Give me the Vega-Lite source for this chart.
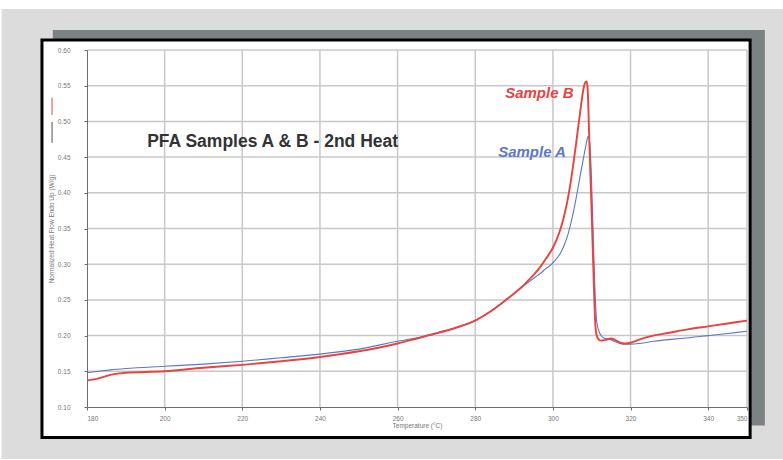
{
  "$schema": "https://vega.github.io/schema/vega-lite/v6.json",
  "width": 660,
  "height": 357,
  "autosize": {"type": "none"},
  "padding": {"left": 87, "top": 50, "right": 36, "bottom": 53},
  "background": "#ffffff",
  "config": {"view": {"stroke": null}, "font": "Liberation Sans"},
  "datasets": {
    "page": [{"x": 158, "x2": 362, "y": 0.027, "y2": 0.6574}],
    "shadow": [{"x": 171.2, "x2": 354.6, "y": 0.074, "y2": 0.628}],
    "panel": [{"x": 168.4, "x2": 350.8, "y": 0.0573, "y2": 0.614}],
    "vgrid": [
      {"x": 200, "y": 0.1, "y2": 0.6}, {"x": 220, "y": 0.1, "y2": 0.6}, {"x": 240, "y": 0.1, "y2": 0.6},
      {"x": 260, "y": 0.1, "y2": 0.6}, {"x": 280, "y": 0.1, "y2": 0.6}, {"x": 300, "y": 0.1, "y2": 0.6},
      {"x": 320, "y": 0.1, "y2": 0.6}, {"x": 340, "y": 0.1, "y2": 0.6}, {"x": 350, "y": 0.1, "y2": 0.6}
    ],
    "hgrid": [
      {"y": 0.15, "x": 180, "x2": 350}, {"y": 0.2, "x": 180, "x2": 350}, {"y": 0.25, "x": 180, "x2": 350},
      {"y": 0.3, "x": 180, "x2": 350}, {"y": 0.35, "x": 180, "x2": 350}, {"y": 0.4, "x": 180, "x2": 350},
      {"y": 0.45, "x": 180, "x2": 350}, {"y": 0.5, "x": 180, "x2": 350}, {"y": 0.55, "x": 180, "x2": 350},
      {"y": 0.6, "x": 180, "x2": 350}
    ],
    "legB": [{"x": 171, "y": 0.509, "y2": 0.533}],
    "legA": [{"x": 171, "y": 0.470, "y2": 0.499}],
    "curves": [
      {"series": "Sample A", "x": 180, "y": 0.148},
      {"series": "Sample A", "x": 183, "y": 0.150},
      {"series": "Sample A", "x": 186, "y": 0.152},
      {"series": "Sample A", "x": 190, "y": 0.154},
      {"series": "Sample A", "x": 200, "y": 0.157},
      {"series": "Sample A", "x": 210, "y": 0.160},
      {"series": "Sample A", "x": 220, "y": 0.164},
      {"series": "Sample A", "x": 230, "y": 0.169},
      {"series": "Sample A", "x": 240, "y": 0.174},
      {"series": "Sample A", "x": 250, "y": 0.181},
      {"series": "Sample A", "x": 260, "y": 0.192},
      {"series": "Sample A", "x": 265, "y": 0.197},
      {"series": "Sample A", "x": 270, "y": 0.204},
      {"series": "Sample A", "x": 275, "y": 0.211},
      {"series": "Sample A", "x": 280, "y": 0.221},
      {"series": "Sample A", "x": 284, "y": 0.234},
      {"series": "Sample A", "x": 287, "y": 0.246},
      {"series": "Sample A", "x": 290, "y": 0.259},
      {"series": "Sample A", "x": 292, "y": 0.268},
      {"series": "Sample A", "x": 294, "y": 0.276},
      {"series": "Sample A", "x": 296, "y": 0.284},
      {"series": "Sample A", "x": 297, "y": 0.288},
      {"series": "Sample A", "x": 298, "y": 0.293},
      {"series": "Sample A", "x": 299, "y": 0.297},
      {"series": "Sample A", "x": 300, "y": 0.302},
      {"series": "Sample A", "x": 301, "y": 0.308},
      {"series": "Sample A", "x": 302, "y": 0.316},
      {"series": "Sample A", "x": 303, "y": 0.328},
      {"series": "Sample A", "x": 304, "y": 0.344},
      {"series": "Sample A", "x": 305, "y": 0.366},
      {"series": "Sample A", "x": 306, "y": 0.393},
      {"series": "Sample A", "x": 307, "y": 0.423},
      {"series": "Sample A", "x": 308, "y": 0.452},
      {"series": "Sample A", "x": 308.6, "y": 0.469},
      {"series": "Sample A", "x": 309.1, "y": 0.479},
      {"series": "Sample A", "x": 309.5, "y": 0.470},
      {"series": "Sample A", "x": 310.0, "y": 0.409},
      {"series": "Sample A", "x": 310.4, "y": 0.339},
      {"series": "Sample A", "x": 310.8, "y": 0.270},
      {"series": "Sample A", "x": 311.3, "y": 0.219},
      {"series": "Sample A", "x": 312.1, "y": 0.203},
      {"series": "Sample A", "x": 313, "y": 0.197},
      {"series": "Sample A", "x": 315, "y": 0.194},
      {"series": "Sample A", "x": 318, "y": 0.188},
      {"series": "Sample A", "x": 320, "y": 0.188},
      {"series": "Sample A", "x": 322.4, "y": 0.189},
      {"series": "Sample A", "x": 326, "y": 0.192},
      {"series": "Sample A", "x": 331, "y": 0.195},
      {"series": "Sample A", "x": 335, "y": 0.197},
      {"series": "Sample A", "x": 340, "y": 0.200},
      {"series": "Sample A", "x": 345, "y": 0.203},
      {"series": "Sample A", "x": 350, "y": 0.206},
      {"series": "Sample B", "x": 180, "y": 0.137},
      {"series": "Sample B", "x": 183, "y": 0.140},
      {"series": "Sample B", "x": 186, "y": 0.145},
      {"series": "Sample B", "x": 190, "y": 0.148},
      {"series": "Sample B", "x": 200, "y": 0.150},
      {"series": "Sample B", "x": 210, "y": 0.155},
      {"series": "Sample B", "x": 220, "y": 0.159},
      {"series": "Sample B", "x": 230, "y": 0.164},
      {"series": "Sample B", "x": 240, "y": 0.170},
      {"series": "Sample B", "x": 250, "y": 0.178},
      {"series": "Sample B", "x": 260, "y": 0.189},
      {"series": "Sample B", "x": 265, "y": 0.196},
      {"series": "Sample B", "x": 270, "y": 0.203},
      {"series": "Sample B", "x": 275, "y": 0.211},
      {"series": "Sample B", "x": 280, "y": 0.221},
      {"series": "Sample B", "x": 284, "y": 0.234},
      {"series": "Sample B", "x": 287, "y": 0.246},
      {"series": "Sample B", "x": 290, "y": 0.259},
      {"series": "Sample B", "x": 292, "y": 0.268},
      {"series": "Sample B", "x": 294, "y": 0.279},
      {"series": "Sample B", "x": 296, "y": 0.291},
      {"series": "Sample B", "x": 297, "y": 0.298},
      {"series": "Sample B", "x": 298, "y": 0.306},
      {"series": "Sample B", "x": 299, "y": 0.314},
      {"series": "Sample B", "x": 300, "y": 0.323},
      {"series": "Sample B", "x": 301, "y": 0.335},
      {"series": "Sample B", "x": 302, "y": 0.350},
      {"series": "Sample B", "x": 303, "y": 0.370},
      {"series": "Sample B", "x": 304, "y": 0.396},
      {"series": "Sample B", "x": 305, "y": 0.430},
      {"series": "Sample B", "x": 306, "y": 0.470},
      {"series": "Sample B", "x": 307, "y": 0.512},
      {"series": "Sample B", "x": 307.7, "y": 0.540},
      {"series": "Sample B", "x": 308.2, "y": 0.553},
      {"series": "Sample B", "x": 308.6, "y": 0.556},
      {"series": "Sample B", "x": 308.9, "y": 0.550},
      {"series": "Sample B", "x": 309.4, "y": 0.470},
      {"series": "Sample B", "x": 310.0, "y": 0.370},
      {"series": "Sample B", "x": 310.5, "y": 0.280},
      {"series": "Sample B", "x": 311.0, "y": 0.210},
      {"series": "Sample B", "x": 311.5, "y": 0.197},
      {"series": "Sample B", "x": 312.3, "y": 0.193},
      {"series": "Sample B", "x": 313.5, "y": 0.194},
      {"series": "Sample B", "x": 315, "y": 0.196},
      {"series": "Sample B", "x": 316, "y": 0.194},
      {"series": "Sample B", "x": 317, "y": 0.191},
      {"series": "Sample B", "x": 318.7, "y": 0.189},
      {"series": "Sample B", "x": 320, "y": 0.190},
      {"series": "Sample B", "x": 322, "y": 0.194},
      {"series": "Sample B", "x": 325, "y": 0.199},
      {"series": "Sample B", "x": 330, "y": 0.204},
      {"series": "Sample B", "x": 335, "y": 0.209},
      {"series": "Sample B", "x": 340, "y": 0.213},
      {"series": "Sample B", "x": 345, "y": 0.217},
      {"series": "Sample B", "x": 350, "y": 0.221}
    ],
    "labels": [
      {"series": "Sample B", "x": 287.7, "y": 0.540},
      {"series": "Sample A", "x": 285.9, "y": 0.457}
    ],
    "title": [{"label": "PFA Samples A & B - 2nd Heat", "x": 195.5, "y": 0.471}]
  },
  "encoding": {
    "x": {
      "field": "x", "type": "quantitative",
      "scale": {"domain": [180, 350], "nice": false, "zero": false},
      "axis": {
        "values": [180, 200, 220, 240, 260, 280, 300, 320, 340, 350],
        "title": "Temperature (°C)", "grid": false, "zindex": 1,
        "domainColor": "#6e6e6e", "tickColor": "#6e6e6e", "tickSize": 3,
        "labelFontSize": 6.5, "labelColor": "#777777", "labelPadding": 5,
        "titleFontSize": 6.5, "titleFontWeight": "normal", "titleColor": "#777777", "titlePadding": 1
      }
    },
    "y": {
      "field": "y", "type": "quantitative",
      "scale": {"domain": [0.1, 0.6], "nice": false, "zero": false},
      "axis": {
        "values": [0.1, 0.15, 0.2, 0.25, 0.3, 0.35, 0.4, 0.45, 0.5, 0.55, 0.6],
        "format": ".2f",
        "title": "Normalized Heat Flow Endo Up (W/g)", "grid": false, "zindex": 1,
        "domainColor": "#6e6e6e", "tickColor": "#6e6e6e", "tickSize": 3,
        "labelFontSize": 6.5, "labelColor": "#777777", "labelPadding": 14,
        "titleFontSize": 6.5, "titleFontWeight": "normal", "titleColor": "#777777", "titlePadding": 3
      }
    }
  },
  "layer": [
    {"data": {"name": "page"}, "mark": {"type": "rect", "color": "#dcdcdc"},
     "encoding": {"x2": {"field": "x2"}, "y2": {"field": "y2"}}},
    {"data": {"name": "shadow"}, "mark": {"type": "rect", "color": "#7a8283"},
     "encoding": {"x2": {"field": "x2"}, "y2": {"field": "y2"}}},
    {"data": {"name": "panel"}, "mark": {"type": "rect", "fill": "#ffffff", "stroke": "#000000", "strokeWidth": 3},
     "encoding": {"x2": {"field": "x2"}, "y2": {"field": "y2"}}},
    {"data": {"name": "vgrid"}, "mark": {"type": "rule", "color": "#c8c8c8", "strokeWidth": 1.5},
     "encoding": {"y2": {"field": "y2"}}},
    {"data": {"name": "hgrid"}, "mark": {"type": "rule", "color": "#c8c8c8", "strokeWidth": 1.5},
     "encoding": {"x2": {"field": "x2"}}},
    {"data": {"name": "legB"}, "mark": {"type": "rule", "color": "#f08080", "strokeWidth": 1.5},
     "encoding": {"y2": {"field": "y2"}}},
    {"data": {"name": "legA"}, "mark": {"type": "rule", "color": "#8a8a8a", "strokeWidth": 1.5},
     "encoding": {"y2": {"field": "y2"}}},
    {"data": {"name": "curves"}, "mark": {"type": "line", "interpolate": "monotone"},
     "encoding": {
       "color": {"field": "series", "type": "nominal", "legend": null,
                 "scale": {"domain": ["Sample A", "Sample B"], "range": ["#5d77c7", "#e8433f"]}},
       "strokeWidth": {"field": "series", "type": "nominal", "legend": null,
                       "scale": {"domain": ["Sample A", "Sample B"], "range": [1.1, 1.9]}}
     }},
    {"data": {"name": "labels"}, "mark": {"type": "text", "align": "left", "baseline": "middle", "fontSize": 15, "fontWeight": "bold", "fontStyle": "italic"},
     "encoding": {
       "text": {"field": "series"},
       "color": {"field": "series", "type": "nominal", "legend": null,
                 "scale": {"domain": ["Sample A", "Sample B"], "range": ["#5d77c7", "#e8433f"]}}
     }},
    {"data": {"name": "title"}, "mark": {"type": "text", "align": "left", "baseline": "middle", "fontSize": 17.5, "fontWeight": "bold", "color": "#333333"},
     "encoding": {"text": {"field": "label"}}}
  ]
}
